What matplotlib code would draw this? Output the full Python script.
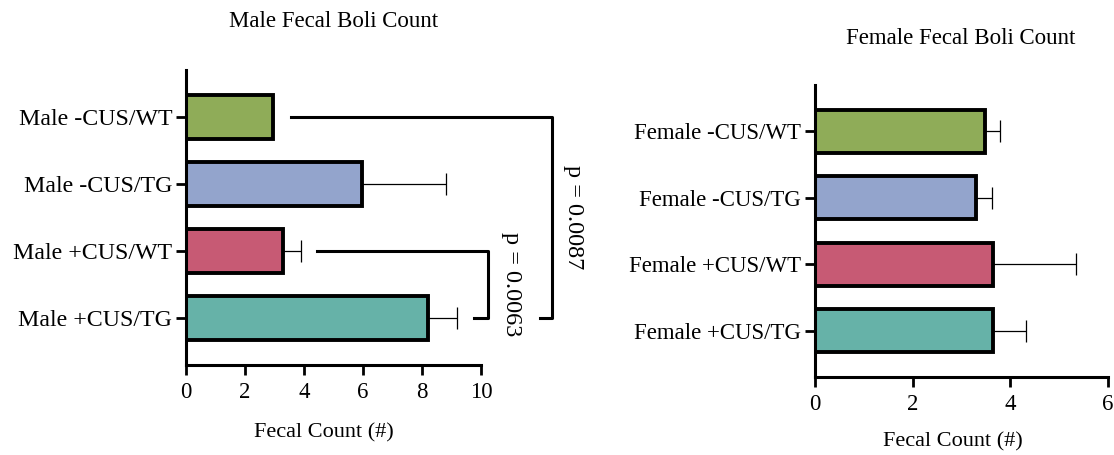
import numpy as np
import matplotlib
matplotlib.use("Agg")
import matplotlib.pyplot as plt

plt.rcParams['font.family'] = ['Liberation Serif', 'DejaVu Serif']

# data
male_labels = ["Male -CUS/WT", "Male -CUS/TG", "Male +CUS/WT", "Male +CUS/TG"]
male_means = [2.95, 5.95, 3.3, 8.2]
male_err = [0.0, 2.85, 0.6, 1.0]

female_labels = ["Female -CUS/WT", "Female -CUS/TG", "Female +CUS/WT", "Female +CUS/TG"]
female_means = [3.48, 3.3, 3.65, 3.65]
female_err = [0.3, 0.33, 1.7, 0.68]

colors = ["#8fac58", "#93a4cc", "#c75a74", "#66b2a8"]

# brackets: (row_a, row_b, x_start_a, x_vert, x_start_b, label, x_text)
male_brackets = [
    (0, 3, 3.55, 12.4, 12.0, "p = 0.0087", 13.15),
    (2, 3, 4.45, 10.25, 9.75, "p = 0.0063", 11.05),
]


def draw_panel(ax, labels, means, errs, xmax, tick_fs):
    y = np.arange(len(labels))
    ax.barh(y, means, height=0.65, color=colors, edgecolor="black", linewidth=2.8, zorder=2)
    ax.errorbar(means, y, xerr=[np.zeros(len(errs)), errs], fmt="none",
                ecolor="black", elinewidth=0.9, capsize=8, capthick=0.9, zorder=1)
    ax.set_yticks(y)
    ax.set_yticklabels(labels, fontsize=tick_fs)
    ax.set_ylim(3.7, -0.7)
    ax.set_xlim(0, xmax)
    ax.set_xticks(np.arange(0, xmax + 1, 2))
    ax.tick_params(axis="x", labelsize=16.5, length=7, width=2, pad=5)
    ax.tick_params(axis="y", length=7, width=2, pad=3)
    for s in ["top", "right"]:
        ax.spines[s].set_visible(False)
    for s in ["left", "bottom"]:
        ax.spines[s].set_linewidth(2.2)


fig = plt.figure(figsize=(11.14, 4.55), dpi=100)

ax1 = fig.add_axes([0.167, 0.198, 0.2648, 0.648])
draw_panel(ax1, male_labels, male_means, male_err, 10, 17.2)
for a, b, xa, xv, xb, txt, xt in male_brackets:
    ax1.plot([xa, xv, xv, xb], [a, a, b, b], color="black", lw=2.2, clip_on=False)
    ax1.text(xt, (a + b) / 2, txt, rotation=-90, ha="center", va="center",
             fontsize=17.5, clip_on=False)
fig.text(0.299, 0.952, "Male Fecal Boli Count", ha="center", va="center", fontsize=16.5)
fig.text(0.291, 0.048, "Fecal Count (#)", ha="center", va="center", fontsize=16)

ax2 = fig.add_axes([0.7316, 0.1714, 0.263, 0.6418])
draw_panel(ax2, female_labels, female_means, female_err, 6, 16.5)
fig.text(0.862, 0.916, "Female Fecal Boli Count", ha="center", va="center", fontsize=16.5)
fig.text(0.855, 0.028, "Fecal Count (#)", ha="center", va="center", fontsize=16)

fig.savefig("out.png", dpi=100)
